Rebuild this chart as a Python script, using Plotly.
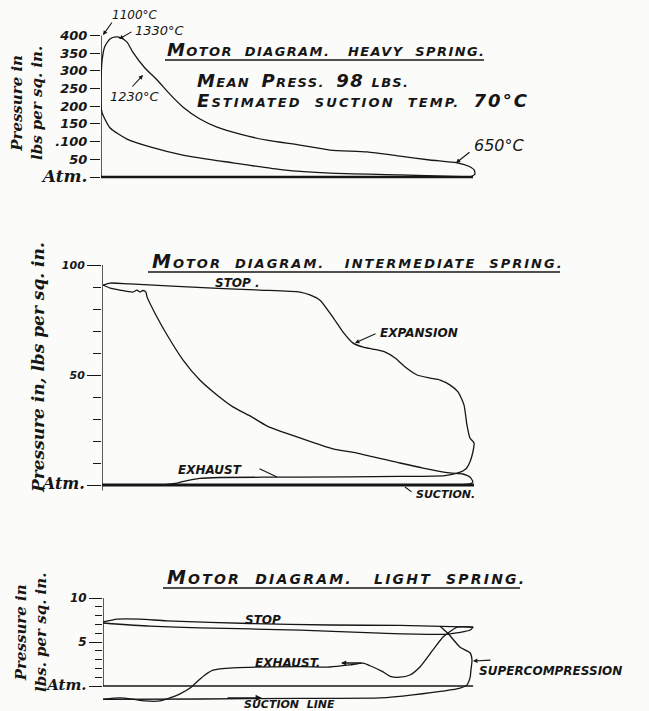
import plotly.graph_objects as go

W, H = 649, 711
INK = "#161616"
BG = "#fbfbfa"

# ---------------- data ----------------
# Heavy spring (stroke %, pressure lbs/sq.in above atm)
heavy_ticks = [0, 50, 100, 150, 200, 250, 300, 350, 400]
heavy_ticktext = ["Atm.", "50", ".100", "150", "200", "250", "300", "350", "400"]
heavy_exp_x = [0, 0, 0.3, 1.0, 2.4, 4.0, 5.4, 7.0, 8.6, 11.8, 15.1, 18.5, 22.0, 26.6, 31.2,
               37.4, 44.6, 53.5, 61.6, 71.5, 80.4, 88.4, 95.7, 98.7, 100.3, 100.5, 99.2]
heavy_exp_p = [198, 274, 330, 368, 390, 396, 393, 381, 352, 308, 274, 234, 198, 164, 141,
               121, 104, 90, 76, 71, 59, 48, 40, 31, 20, 8, 0]
heavy_comp_x = [99.2, 80.4, 61.6, 49.0, 35.5, 22.0, 13.2, 7.0, 2.4, 0.3, 0]
heavy_comp_p = [0, 6, 11, 20, 40, 62, 85, 107, 139, 181, 198]
heavy_atm_x = [0, 100]

# Intermediate spring
inter_major = [0, 50, 100]
inter_major_text = ["Atm.", "50", "100"]
inter_minor = [10, 20, 30, 40, 60, 70, 80, 90]
inter_top_x = [0.3, 2.2, 7.5, 29.8, 42.5, 53.2, 55.9, 58.6, 62.0, 64.8, 67.5, 70.2, 72.8, 76.0,
               78.8, 81.5, 84.7, 88.2, 90.9, 93.5, 95.7, 97.3, 98.1, 98.9, 100.0, 99.7, 98.9,
               97.8, 95.7, 92.2, 80.1, 53.2, 31.7, 26.3, 22.3, 20.2, 16.9]
inter_top_p = [90.9, 91.8, 91.4, 89.5, 88.6, 87.7, 86.4, 84.0, 76.4, 69.5, 64.5, 62.7, 61.8, 60.5,
               57.7, 53.6, 50.0, 48.6, 47.7, 45.5, 42.3, 36.4, 27.3, 21.4, 19.1, 15.0, 10.5,
               7.3, 5.5, 4.3, 3.9, 3.6, 3.4, 3.0, 1.8, 0.9, 0.2]
inter_comp_x = [0.3, 2.2, 4.8, 8.3, 9.4, 10.2, 11.0, 11.8, 12.1, 14.2, 17.5, 21.8, 26.3, 30.9,
                35.2, 39.8, 44.4, 53.2, 62.1, 68.5, 80.1, 86.3, 93.5, 97.0, 98.9, 99.7, 98.9, 95.4]
inter_comp_p = [90.9, 89.5, 88.6, 87.7, 88.6, 87.7, 88.4, 87.7, 85.5, 78.2, 68.2, 56.8, 47.7, 40.9,
                35.5, 31.4, 26.8, 21.4, 16.4, 14.5, 10.0, 7.7, 5.5, 5.0, 3.6, 1.4, 0.5, 0.0]
inter_atm_x = [0, 100]

# Light spring
light_major = [0, 5, 10]
light_major_text = ["Atm.", "5", "10"]
light_minor = [1, 2, 3, 4, 6, 7, 8, 9]
light_stop_up_x = [0, 3.8, 9.9, 17.2, 39.5, 61.0, 79.8, 99.5]
light_stop_up_p = [7.27, 7.6, 7.6, 7.4, 7.1, 6.93, 6.88, 6.7]
light_stop_lo_x = [0, 12.6, 26.0, 53.0, 74.5, 92.7, 98.7, 99.5]
light_stop_lo_p = [7.16, 6.8, 6.6, 6.36, 6.0, 5.9, 6.36, 6.7]
light_exh_x = [99.5, 95.2, 92.7, 91.4, 88.7, 85.2, 82.5, 79.8, 77.2, 75.3, 71.8, 69.9, 66.4, 61.0,
               53.0, 35.0, 29.6, 27.4, 25.5, 23.4, 20.7, 18.0, 15.3, 11.3, 8.0, 4.6, 0]
light_exh_p = [6.7, 6.7, 6.0, 5.57, 4.1, 2.16, 1.25, 1.0, 1.1, 1.6, 2.3, 2.6, 2.4, 2.16,
               2.2, 2.05, 1.8, 1.25, 0.57, -0.23, -0.9, -1.36, -1.7, -1.7, -1.5, -1.36, -1.5]
light_sup_x = [90.6, 92.7, 96.0, 98.7, 99.2, 98.9, 98.7, 97.8, 96.0, 83.3, 74.5, 53.0, 26.0, 0]
light_sup_p = [6.8, 6.0, 4.4, 3.75, 2.95, 1.8, 1.0, 0.1, -0.23, -1.0, -1.36, -1.4, -1.48, -1.53]
light_atm_x = [0, 99.5]

# ---------------- geometry helpers ----------------
PXS = 3.72  # px per stroke %


def xdom(x0):
    return [x0 / W, 560 / W]


def ydom(top, bot):
    return [1 - bot / H, 1 - top / H]


fig = go.Figure()


def line(x, y, ax, w=1.3):
    fig.add_trace(go.Scatter(x=x, y=y, mode="lines", xaxis="x" + ax, yaxis="y" + ax,
                             line=dict(color=INK, width=w, shape="spline", smoothing=0.6),
                             hoverinfo="skip", showlegend=False))


def straight(x, y, ax, w=1.3):
    fig.add_trace(go.Scatter(x=x, y=y, mode="lines", xaxis="x" + ax, yaxis="y" + ax,
                             line=dict(color=INK, width=w), hoverinfo="skip", showlegend=False))


# panel 1
line(heavy_exp_x, heavy_exp_p, "")
line(heavy_comp_x, heavy_comp_p, "")
straight(heavy_atm_x, [0, 0], "", 2.6)
straight([0, 0], [min(heavy_ticks), max(heavy_ticks)], "", 1.4)
# panel 2
line(inter_top_x, inter_top_p, "2")
line(inter_comp_x, inter_comp_p, "2")
straight(inter_atm_x, [0, 0], "2", 2.8)
straight([0, 0], [-2.5, max(inter_major)], "2", 1.4)
# panel 3
line(light_stop_up_x, light_stop_up_p, "3")
line(light_stop_lo_x, light_stop_lo_p, "3")
line(light_exh_x, light_exh_p, "3")
line(light_sup_x, light_sup_p, "3")
straight(light_atm_x, [0, 0], "3", 1.3)
straight([0, 0], [min(light_major), max(light_major)], "3", 1.4)

tickfont = dict(family="DejaVu Sans", size=12, color=INK, weight="bold", style="italic")


def atm(size):
    return ("<span style=\"font-family:'DejaVu Serif';font-size:%dpx;font-style:italic;"
            "font-weight:bold\">Atm.</span>" % size)


def yax(ticks, ttext, dom, rng, anchor, ticklen, fsize, atmsize, minor=None, minorlen=8):
    tt = [atm(atmsize) if t == "Atm." else t for t in ttext]
    d = dict(domain=dom, range=rng, anchor=anchor, tickmode="array", tickvals=ticks,
             ticktext=tt, ticks="outside", ticklen=ticklen, tickwidth=1.3, tickcolor=INK,
             showline=False, showgrid=False, zeroline=False,
             tickfont=dict(tickfont, size=fsize), fixedrange=True)
    if minor:
        d["minor"] = dict(tickmode="array", tickvals=minor, ticks="outside", ticklen=minorlen,
                          tickwidth=1.3, tickcolor=INK, showgrid=False)
    return d


def xax(x0, anchor):
    return dict(domain=xdom(x0), range=[0, (560 - x0) / PXS], anchor=anchor, visible=False,
                fixedrange=True)


fig.update_layout(
    width=W, height=H, margin=dict(l=0, r=0, t=0, b=0),
    paper_bgcolor=BG, plot_bgcolor="rgba(0,0,0,0)", showlegend=False,
    xaxis=xax(101, "y"),
    yaxis=yax(heavy_ticks, heavy_ticktext, ydom(8, 192),
              [(177 - 192) / 0.354, (177 - 8) / 0.354], "x", 10, 13, 17),
    xaxis2=xax(102, "y2"),
    yaxis2=yax(inter_major, inter_major_text, ydom(255, 500),
               [(485 - 500) / 2.2, (485 - 255) / 2.2], "x2", 14, 11, 16, inter_minor, 8),
    xaxis3=xax(103, "y3"),
    yaxis3=yax(light_major, light_major_text, ydom(592, 711),
               [(686 - 711) / 8.8, (686 - 592) / 8.8], "x3", 13, 12, 15, light_minor, 7),
)

ann = []


def P(px, py):
    return px / W, 1 - py / H


def text(s, px, py, size, xanchor="left", family="DejaVu Sans", italic=True, bold=True,
         angle=0):
    x, y = P(px, py)
    ann.append(dict(text=s, x=x, y=y, xref="paper", yref="paper", xanchor=xanchor,
                    yanchor="middle", showarrow=False, textangle=angle,
                    font=dict(family=family, size=size, color=INK,
                              style="italic" if italic else "normal",
                              weight="bold" if bold else "normal")))


def caps(parts, big, spacing):
    out = "".join("<span style='font-size:%dpx'>%s</span>" % (big, s) if b else s
                  for s, b in parts)
    return "<span style='letter-spacing:%.1fpx'>%s</span>" % (spacing, out)


def arrow(hx, hy, tx, ty, head=2, w=1.1, size=0.8):
    x, y = P(hx, hy)
    ann.append(dict(text="", x=x, y=y, xref="paper", yref="paper", ax=tx - hx, ay=ty - hy,
                    axref="pixel", ayref="pixel", showarrow=True, arrowhead=head,
                    arrowsize=size, arrowwidth=w, arrowcolor=INK))


def uline(x0, x1, y):
    fig.add_shape(type="line", xref="paper", yref="paper", x0=x0 / W, x1=x1 / W,
                  y0=1 - y / H, y1=1 - y / H, line=dict(color=INK, width=1.3))


# ---- panel 1 text ----
text(caps([("M", 1), ("OTOR  DIAGRAM.   HEAVY  SPRING.", 0)], 18, 1.4), 165, 49, 13)
uline(165, 484, 60)
text(caps([("M", 1), ("EAN  ", 0), ("P", 1), ("RESS.  ", 0), ("98 ", 1), ("LBS.", 0)], 18, 1.3),
     195, 80, 13)
text(caps([("E", 1), ("STIMATED  SUCTION  TEMP.  ", 0), ("70°C", 1)], 18, 2.1), 195, 101, 13)
text("1100°C", 110, 15, 12, bold=False)
text("1330°C", 133, 31, 13, bold=False)
text("1230°C", 108, 97, 13, bold=False)
text("650°C", 472, 146, 16, bold=False)
arrow(103, 35, 113, 21)
arrow(119, 39, 133, 31)
arrow(143, 75, 131, 88)
arrow(456, 163, 471, 151)
text("Pressure in<br>lbs per sq. in.", 27, 103, 15, xanchor="center",
     family="DejaVu Serif", angle=-90)

# ---- panel 2 text ----
text(caps([("M", 1), ("OTOR  DIAGRAM.   INTERMEDIATE  SPRING.", 0)], 19, 2.0), 150, 261, 13)
uline(148, 560, 272)
text("STOP .", 213, 283, 12)
text("EXPANSION", 378, 333, 12)
arrow(355, 343, 377, 333)
text("EXHAUST", 176, 470, 12)
arrow(277, 477, 258, 468, head=0)
text("SUCTION.", 414, 494, 11)
arrow(405, 487, 413, 493, head=0)
text("Pressure in, lbs per sq. in.", 38, 368, 17, xanchor="center",
     family="DejaVu Serif", angle=-90)

# ---- panel 3 text ----
text(caps([("M", 1), ("OTOR  DIAGRAM.   LIGHT  SPRING.", 0)], 19, 2.2), 165, 577, 14)
uline(163, 520, 588)
text("STOP", 243, 620, 12)
text("EXHAUST.", 253, 663, 12)
arrow(341, 663, 363, 663, head=2, w=1.3)
text("SUPERCOMPRESSION", 477, 671, 12)
arrow(473, 661, 492, 660, head=2)
text("SUCTION  LINE", 242, 704, 11)
arrow(262, 698, 226, 698, head=2, w=1.6)
text("Pressure in<br>lbs. per sq. in.", 31, 633, 15, xanchor="center",
     family="DejaVu Serif", angle=-90)

fig.update_layout(annotations=ann)
fig.write_html("out.html", config={"displayModeBar": False},
               post_script="document.body.style.margin='0px';"
               "document.body.style.overflow='hidden';")
